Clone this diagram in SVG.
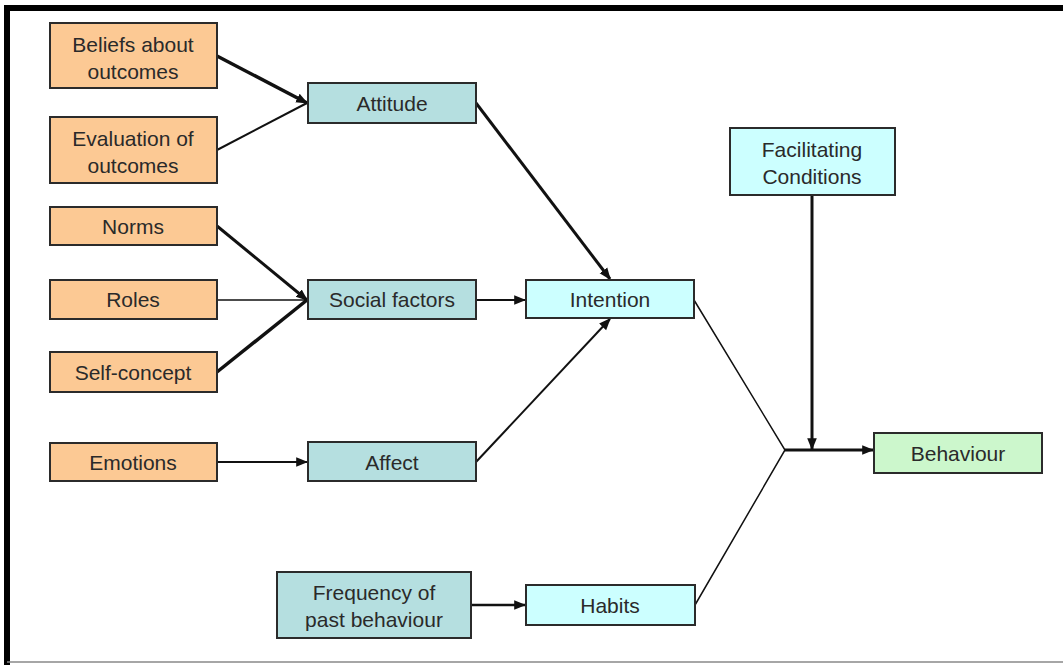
<svg xmlns="http://www.w3.org/2000/svg" width="1063" height="665" viewBox="0 0 1063 665">
<style>
.box{stroke:#2b2b2b;stroke-width:2}
.o{fill:#fcc994}
.c{fill:#b5dfe0}
.l{fill:#ccffff}
.g{fill:#ccf7cc}
text{font-family:"Liberation Sans",Arial,sans-serif;font-size:21px;fill:#2a2a2a;text-anchor:middle}
.w{stroke:#111;fill:none}
</style>
<defs>
<marker id="a" viewBox="0 0 10 10" refX="9" refY="5" markerWidth="12" markerHeight="12" markerUnits="userSpaceOnUse" orient="auto">
<path d="M0,1 L10,5 L0,9 z" fill="#111"/>
</marker>
</defs>
<rect x="0" y="0" width="1063" height="665" fill="#ffffff"/>
<path d="M7,665 V8 H1063" fill="none" stroke="#000" stroke-width="6"/>
<line x1="7" y1="662" x2="1063" y2="662" stroke="#888" stroke-width="1.5"/>
<g id="connectors">
<line class="w" x1="217" y1="56" x2="307" y2="103" stroke-width="3.5" marker-end="url(#a)"/>
<line class="w" x1="217" y1="150" x2="307" y2="103" stroke-width="2"/>
<line class="w" x1="217" y1="226" x2="307" y2="300" stroke-width="3" marker-end="url(#a)"/>
<line class="w" x1="217" y1="300" x2="307" y2="300" stroke-width="1.5"/>
<line class="w" x1="217" y1="372" x2="307" y2="300" stroke-width="3.5"/>
<line class="w" x1="217" y1="462" x2="307" y2="462" stroke-width="2" marker-end="url(#a)"/>
<line class="w" x1="476" y1="103" x2="610" y2="279" stroke-width="3" marker-end="url(#a)"/>
<line class="w" x1="476" y1="300" x2="525" y2="300" stroke-width="2" marker-end="url(#a)"/>
<line class="w" x1="476" y1="462" x2="610" y2="319" stroke-width="2" marker-end="url(#a)"/>
<line class="w" x1="471" y1="605" x2="525" y2="605" stroke-width="2.5" marker-end="url(#a)"/>
<polyline class="w" points="694,300 785,450 695,605" stroke-width="1.5"/>
<line class="w" x1="785" y1="450" x2="873" y2="450" stroke-width="3" marker-end="url(#a)"/>
<line class="w" x1="812" y1="195" x2="812" y2="449" stroke-width="3" marker-end="url(#a)"/>
</g>
<g id="beliefs"><rect class="box o" x="50" y="23" width="167" height="65"/><text x="133" y="52">Beliefs about</text><text x="133" y="79">outcomes</text></g>
<g id="evaluation"><rect class="box o" x="50" y="117" width="167" height="66"/><text x="133" y="146">Evaluation of</text><text x="133" y="173">outcomes</text></g>
<g id="norms"><rect class="box o" x="50" y="207" width="167" height="38"/><text x="133" y="234">Norms</text></g>
<g id="roles"><rect class="box o" x="50" y="280" width="167" height="39"/><text x="133" y="307">Roles</text></g>
<g id="selfconcept"><rect class="box o" x="50" y="352" width="167" height="40"/><text x="133" y="380">Self-concept</text></g>
<g id="emotions"><rect class="box o" x="50" y="443" width="167" height="38"/><text x="133" y="470">Emotions</text></g>
<g id="attitude"><rect class="box c" x="308" y="83" width="168" height="40"/><text x="392" y="111">Attitude</text></g>
<g id="social"><rect class="box c" x="308" y="280" width="168" height="39"/><text x="392" y="307">Social factors</text></g>
<g id="affect"><rect class="box c" x="308" y="442" width="168" height="39"/><text x="392" y="470">Affect</text></g>
<g id="frequency"><rect class="box c" x="277" y="572" width="194" height="66"/><text x="374" y="600">Frequency of</text><text x="374" y="627">past behaviour</text></g>
<g id="intention"><rect class="box l" x="526" y="280" width="168" height="38"/><text x="610" y="307">Intention</text></g>
<g id="habits"><rect class="box l" x="526" y="585" width="169" height="40"/><text x="610" y="613">Habits</text></g>
<g id="facilitating"><rect class="box l" x="730" y="128" width="165" height="67"/><text x="812" y="157">Facilitating</text><text x="812" y="184">Conditions</text></g>
<g id="behaviour"><rect class="box g" x="874" y="433" width="168" height="40"/><text x="958" y="461">Behaviour</text></g>
</svg>
